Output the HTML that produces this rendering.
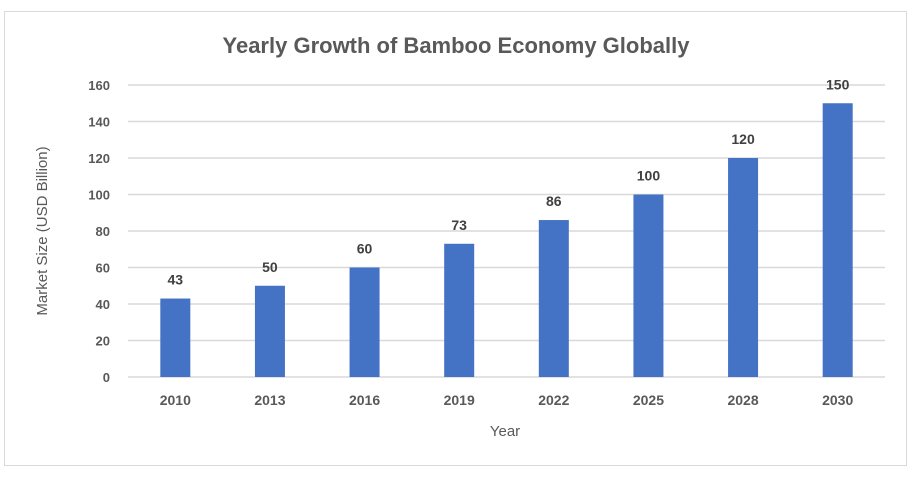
<!DOCTYPE html>
<html><head><meta charset="utf-8"><style>
body{margin:0;background:#fff;font-family:"Liberation Sans",Arial,sans-serif;}
svg text{font-family:"Liberation Sans",Arial,sans-serif;}
</style></head><body>
<svg width="912" height="474">
<rect x="4.5" y="11.5" width="902" height="454" fill="#fff" stroke="#d9d9d9"/>
<text x="456" y="53" text-anchor="middle" font-size="22" font-weight="bold" fill="#595959">Yearly Growth of Bamboo Economy Globally</text>
<g id="grid"></g><g id="bars"></g>
<text x="505" y="436" text-anchor="middle" font-size="15" fill="#595959">Year</text>
<text transform="translate(47,231) rotate(-90)" text-anchor="middle" font-size="15" fill="#595959">Market Size (USD Billion)</text>
</svg>
<script>
const categories=["2010","2013","2016","2019","2022","2025","2028","2030"];
const values=[43,50,60,73,86,100,120,150];
const yTicks=[0,20,40,60,80,100,120,140,160];
const ns="http://www.w3.org/2000/svg";
const x0=128,x1=885,yBase=377,yTop=85,yMax=160;
const step=(x1-x0)/categories.length;
const y=v=>yBase-(yBase-yTop)*v/yMax;
const xc=i=>x0+step*(i+0.5);
function mk(t,a,p){const e=document.createElementNS(ns,t);for(const k in a)e.setAttribute(k,a[k]);p.appendChild(e);return e;}
const g=document.getElementById('grid'),b=document.getElementById('bars');
yTicks.forEach(v=>{
 const l=mk('line',{x1:x0,x2:x1,y1:y(v),y2:y(v),stroke:'#d9d9d9','stroke-width':1.5},g);
 
 
 const t=mk('text',{x:110,y:y(v)+5,'text-anchor':'end','font-size':13,'font-weight':'bold',fill:'#595959'},g);
 t.textContent=v;
 
 
});
categories.forEach((c,i)=>{
 const r=mk('rect',{x:xc(i)-15,y:y(values[i]),width:30,height:yBase-y(values[i]),fill:'#4472c4'},b);
 
 
 const vl=mk('text',{x:xc(i),y:y(values[i])-14,'text-anchor':'middle','font-size':14,'font-weight':'bold',fill:'#404040'},b);
 vl.textContent=values[i];
 
 
 const xl=mk('text',{x:xc(i),y:405,'text-anchor':'middle','font-size':14,'font-weight':'bold',fill:'#595959'},b);
 xl.textContent=c;
 
 
});
</script>
</body></html>
